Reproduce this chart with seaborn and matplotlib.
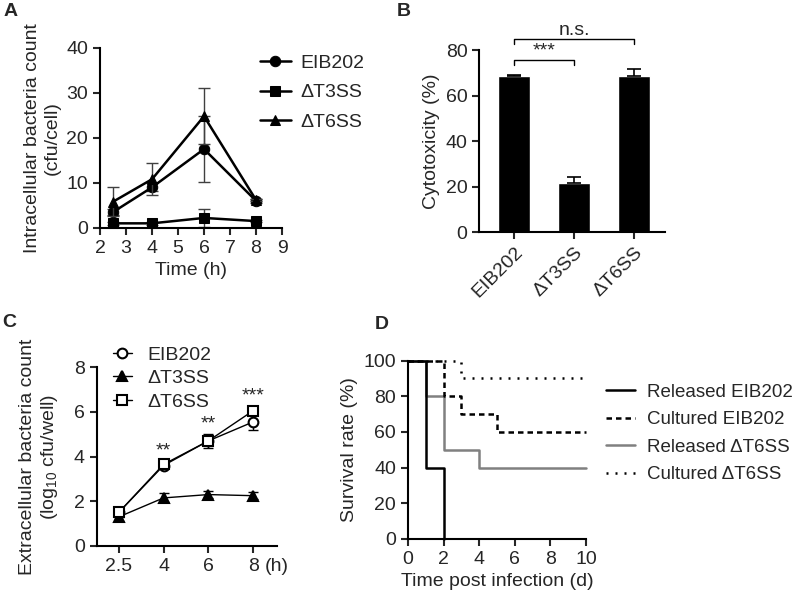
import numpy as np
import pandas as pd
import seaborn as sns
import matplotlib.pyplot as plt

sns.set_theme(style="ticks")
plt.rcParams['font.family'] = ['Liberation Sans', 'DejaVu Sans']
plt.rcParams['mathtext.fontset'] = 'custom'
plt.rcParams['mathtext.rm'] = 'Liberation Sans'
plt.rcParams['mathtext.it'] = 'Liberation Sans:italic'
plt.rcParams['axes.linewidth'] = 1.5
plt.rcParams['xtick.major.width'] = 1.5
plt.rcParams['ytick.major.width'] = 1.5
plt.rcParams['xtick.major.size'] = 5
plt.rcParams['ytick.major.size'] = 5
plt.rcParams['xtick.labelsize'] = 14
plt.rcParams['ytick.labelsize'] = 14
plt.rcParams['axes.labelsize'] = 14
plt.rcParams['axes.edgecolor'] = 'black'

strains = ["EIB202", "ΔT3SS", "ΔT6SS"]

# panel A - intracellular counts
time_a = [2.5, 4, 6, 8]
intra_eib = [3.5, 9.0, 17.5, 6.0]
intra_eib_err = [0.6, 0.9, 7.3, 0.4]
intra_t3 = [1.0, 1.0, 2.2, 1.5]
intra_t3_err = [0.3, 0.3, 2.0, 0.3]
intra_t6 = [5.8, 10.8, 24.8, 6.2]
intra_t6_err = [3.2, 3.5, 6.2, 0.3]

# panel B - cytotoxicity
cyto = [68.5, 21.5, 68.5]
cyto_err = [0.6, 2.8, 3.3]

# panel C - extracellular counts
time_c = ["2.5", "4", "6", "8"]
extra_eib = [1.5, 3.6, 4.7, 5.55]
extra_eib_err = [0.2, 0.1, 0.2, 0.35]
extra_t3 = [1.3, 2.15, 2.3, 2.25]
extra_t3_err = [0.2, 0.2, 0.15, 0.15]
extra_t6 = [1.5, 3.65, 4.7, 6.05]
extra_t6_err = [0.15, 0.1, 0.3, 0.2]
stars_c = ["", "**", "**", "***"]

# panel D - survival curves
surv_names = ["Released EIB202", "Cultured EIB202", "Released ΔT6SS", "Cultured ΔT6SS"]
rel_eib_t = [0, 1, 2]
rel_eib_s = [100, 40, 0]
cul_eib_t = [0, 2, 3, 5, 10]
cul_eib_s = [100, 80, 70, 60, 60]
rel_t6_t = [0, 1, 2, 4, 10]
rel_t6_s = [100, 80, 50, 40, 40]
cul_t6_t = [0, 3, 10]
cul_t6_s = [100, 90, 90]

fig = plt.figure(figsize=(8, 5.98), dpi=100)
axA = fig.add_axes([0.125, 0.619, 0.2275, 0.301])
axB = fig.add_axes([0.599, 0.612, 0.2325, 0.304])
axC = fig.add_axes([0.121, 0.087, 0.225, 0.299])
axD = fig.add_axes([0.51, 0.099, 0.2225, 0.298])

# ---- A
for vals, err, mk, name in [(intra_eib, intra_eib_err, 'o', strains[0]),
                            (intra_t3, intra_t3_err, 's', strains[1]),
                            (intra_t6, intra_t6_err, '^', strains[2])]:
    axA.errorbar(time_a, vals, yerr=err, fmt='none', ecolor='0.25', elinewidth=1,
                 capsize=4, capthick=1, clip_on=False)
    sns.lineplot(x=time_a, y=vals, marker=mk, markersize=7.5, color='black',
                 markeredgecolor='black', linewidth=1.8, label=name, ax=axA,
                 clip_on=False)
axA.set_xlim(2, 9)
axA.set_ylim(0, 40)
axA.set_xticks(range(2, 10))
axA.set_yticks([0, 10, 20, 30, 40])
axA.set_xlabel("Time (h)")
axA.set_ylabel("Intracellular bacteria count\n(cfu/cell)", labelpad=4)
axA.legend(loc='upper left', bbox_to_anchor=(0.785, 1.06), frameon=False,
           fontsize=14, handlelength=1.55, handletextpad=0.5, labelspacing=0.6)
sns.despine(ax=axA)

# ---- B
sns.barplot(x=strains, y=cyto, color='black', saturation=1, width=0.53, ax=axB)
axB.errorbar(range(3), cyto, yerr=[np.zeros(3), cyto_err], fmt='none',
             ecolor='black', elinewidth=1.2, capsize=5, capthick=1.2)
axB.set_xlim(-0.58, 2.52)
axB.set_ylim(0, 80)
axB.set_yticks([0, 20, 40, 60, 80])
axB.set_ylabel("Cytotoxicity (%)")
axB.set_xticks(range(3))
axB.set_xticklabels(strains, rotation=45, ha='right', rotation_mode='anchor')
for x0, x1, yb, lab, fs in [(0, 1, 75.6, "***", 14), (0, 2, 84.8, "n.s.", 14)]:
    axB.plot([x0, x0, x1, x1], [yb - 2, yb, yb, yb - 2], color='black', lw=1,
             clip_on=False)
    axB.text((x0 + x1) / 2, yb + 0.3, lab, ha='center', va='bottom',
             fontsize=fs, clip_on=False)
sns.despine(ax=axB)

# ---- C
xc = np.arange(len(time_c))
for vals, err, mk, fc, ms, name in [(extra_eib, extra_eib_err, 'o', 'white', 7, strains[0]),
                                    (extra_t3, extra_t3_err, '^', 'black', 6.5, strains[1]),
                                    (extra_t6, extra_t6_err, 's', 'white', 7, strains[2])]:
    axC.errorbar(xc, vals, yerr=err, fmt='none', ecolor='black', elinewidth=1,
                 capsize=3.5, capthick=1)
    sns.lineplot(x=xc, y=vals, marker=mk, markersize=ms, color='black',
                 markerfacecolor=fc, markeredgecolor='black', markeredgewidth=1.5,
                 linewidth=1, label=name, ax=axC)
for i, s in enumerate(stars_c):
    top = max(extra_eib[i] + extra_eib_err[i], extra_t6[i] + extra_t6_err[i])
    axC.text(xc[i], top + 0.1, s, ha='center', va='bottom', fontsize=14)
axC.set_xlim(-0.49, 3.53)
axC.set_ylim(0, 8)
axC.set_yticks([0, 2, 4, 6, 8])
axC.set_xticks(xc)
axC.set_xticklabels(time_c)
axC.text(3.27, -0.067, "(h)", transform=axC.get_xaxis_transform(), ha='left',
         va='top', fontsize=14)
axC.set_ylabel("Extracellular bacteria count\n(log$_{10}$ cfu/well)", labelpad=10)
axC.legend(loc='upper left', bbox_to_anchor=(-0.01, 1.215), frameon=False,
           fontsize=14, handlelength=1.0, handletextpad=0.8, labelspacing=0.3)
sns.despine(ax=axC)

# ---- D
surv = [(rel_eib_t, rel_eib_s, 'black', '-', 4),
        (cul_eib_t, cul_eib_s, 'black', (0, (2.2, 1.6)), 3),
        (rel_t6_t, rel_t6_s, '0.5', '-', 1),
        (cul_t6_t, cul_t6_s, 'black', (0, (0.8, 2.8)), 2)]
for (t, s, c, ls, z), name in zip(surv, surv_names):
    sns.lineplot(x=t, y=s, drawstyle='steps-post', color=c, linestyle=ls,
                 linewidth=1.8, label=name, ax=axD, zorder=z, clip_on=False)
axD.set_xlim(0, 10)
axD.set_ylim(0, 100)
axD.set_xticks([0, 2, 4, 6, 8, 10])
axD.set_yticks([0, 20, 40, 60, 80, 100])
axD.set_xlabel("Time post infection (d)")
axD.set_ylabel("Survival rate (%)")
axD.legend(loc='upper left', bbox_to_anchor=(1.02, 0.965), frameon=False,
           fontsize=13.5, handlelength=1.55, handletextpad=0.6, labelspacing=0.55)
sns.despine(ax=axD)

for lab, x, y in [("A", 0.004, 0.995), ("B", 0.496, 0.995),
                  ("C", 0.003, 0.475), ("D", 0.468, 0.472)]:
    fig.text(x, y, lab, fontsize=14, fontweight='bold', ha='left', va='top')

fig.savefig("out.png", dpi=100)
